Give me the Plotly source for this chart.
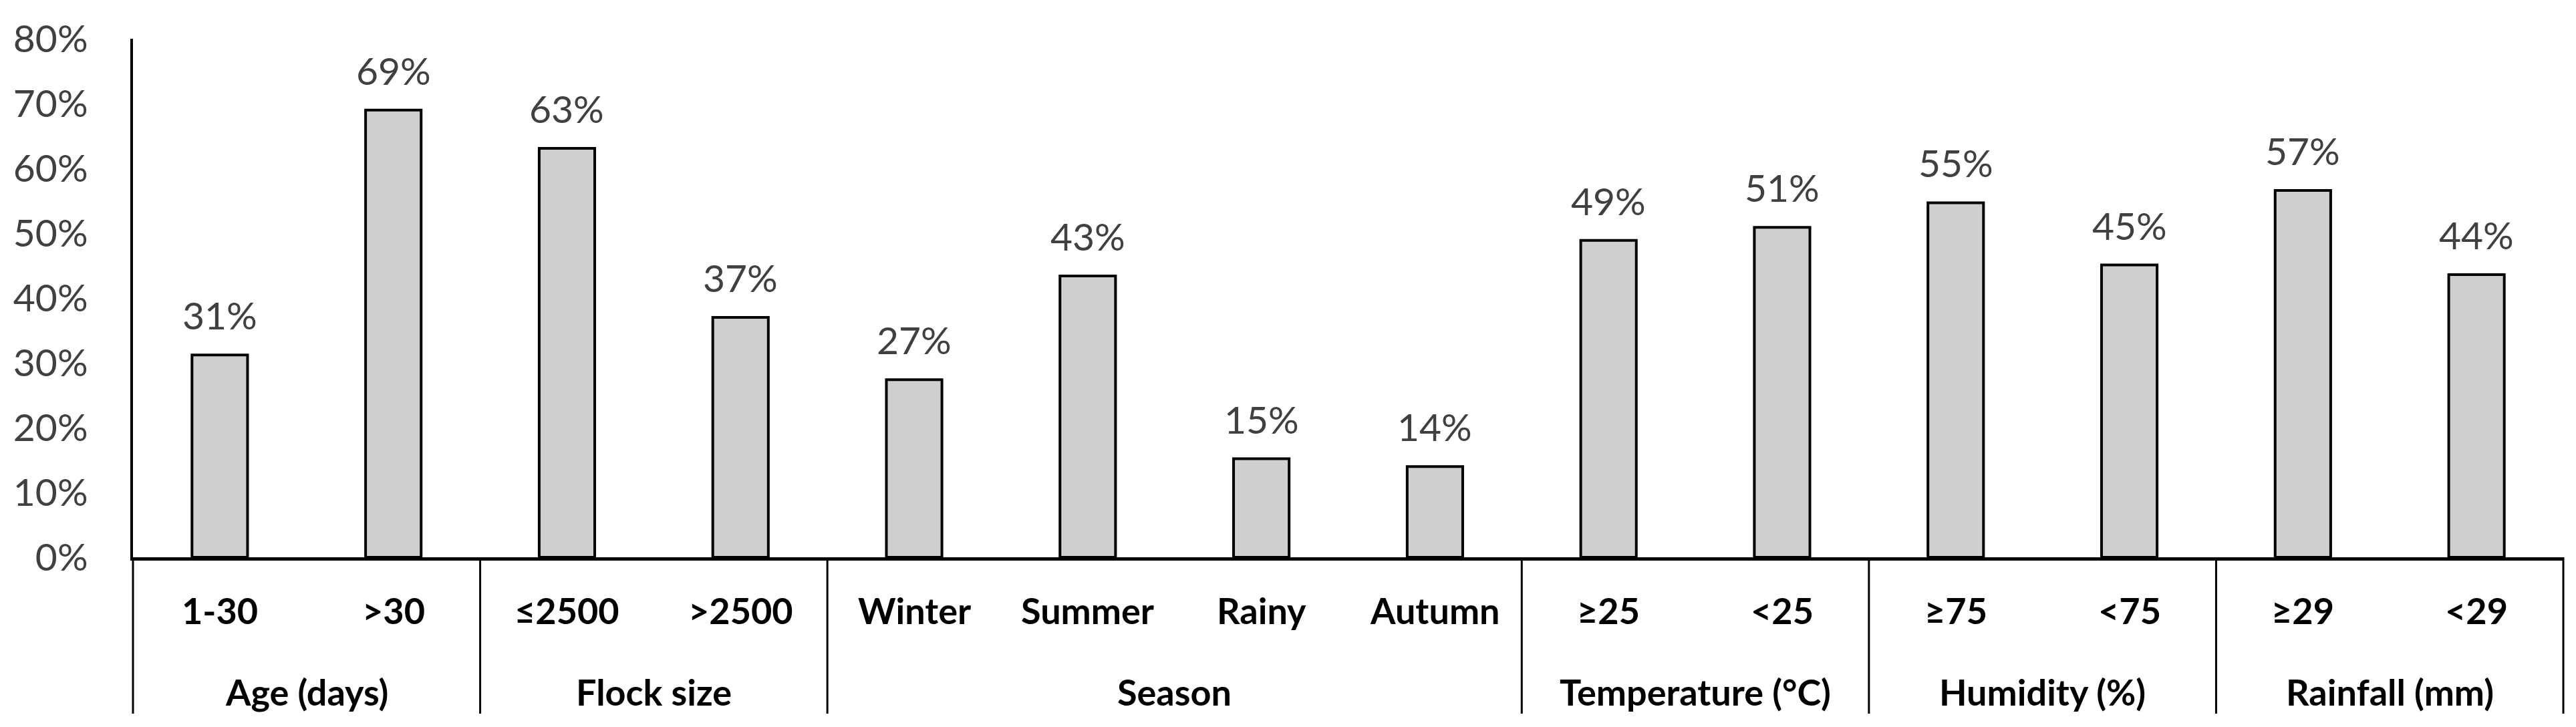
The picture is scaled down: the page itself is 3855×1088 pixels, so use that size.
import plotly.graph_objects as go

# ---- data ----
groups = ["Age (days)", "Flock size", "Season", "Temperature (°C)", "Humidity (%)", "Rainfall (mm)"]
group_sizes = [2, 2, 4, 2, 2, 2]
categories = ["1-30", ">30", "≤2500", ">2500", "Winter", "Summer", "Rainy", "Autumn",
              "≥25", "<25", "≥75", "<75", "≥29", "<29"]
values = [31.2, 69.0, 63.1, 37.0, 27.4, 43.4, 15.2, 14.0, 48.9, 50.9, 54.7, 45.1, 56.6, 43.6]
y_ticks = [0, 10, 20, 30, 40, 50, 60, 70, 80]

FONT = "Lato"
n = len(categories)
idx = list(range(n))

fig = go.Figure()
fig.add_trace(go.Bar(
    x=idx, y=values,
    marker=dict(color="#D0CECE", line=dict(color="black", width=4)),
    width=0.32,
    hoverinfo="skip",
))

annotations = []
# value labels
for i, v in zip(idx, values):
    annotations.append(dict(x=i, y=v, xref="x", yref="y", text=f"{round(v)}%",
                            showarrow=False, yanchor="middle", yshift=60,
                            font=dict(family=FONT, size=57, color="#404040")))
# category labels
for i, c in zip(idx, categories):
    annotations.append(dict(x=i, y=0, xref="x", yref="paper", text=f"<b>{c}</b>",
                            showarrow=False, yanchor="middle", yshift=-79,
                            font=dict(family=FONT, size=54, color="black")))
# group labels + dividers
shapes = []
start = 0
plot_h = 1088 - 50 - 262
div_len = 234 / plot_h
bounds = [-0.5]
for g, s in zip(groups, group_sizes):
    center = start + (s - 1) / 2
    annotations.append(dict(x=center, y=0, xref="x", yref="paper", text=f"<b>{g}</b>",
                            showarrow=False, yanchor="middle", yshift=-201,
                            font=dict(family=FONT, size=54, color="black")))
    start += s
    bounds.append(start - 0.5)
for b in bounds:
    xp = (b + 0.5) / n
    shapes.append(dict(type="line", xref="paper", yref="paper", x0=xp, x1=xp,
                       y0=0, y1=-div_len, line=dict(color="black", width=3)))

fig.update_layout(
    width=3855, height=1088,
    margin=dict(l=191, r=27, t=50, b=262),
    paper_bgcolor="white", plot_bgcolor="white",
    showlegend=False,
    bargap=0.68,
    annotations=annotations,
    shapes=shapes,
    xaxis=dict(range=[-0.5, n - 0.5], showticklabels=False, ticks="",
               showgrid=False, zeroline=False, showline=True,
               linecolor="black", linewidth=5),
    yaxis=dict(range=[0, 80], tickvals=y_ticks, ticktext=[f"{t}%" for t in y_ticks],
               showgrid=False, zeroline=False, showline=True, linecolor="black",
               linewidth=4, ticks="", ticklabelstandoff=52,
               tickfont=dict(family=FONT, size=57, color="#404040")),
)

fig.write_html("out.html")
